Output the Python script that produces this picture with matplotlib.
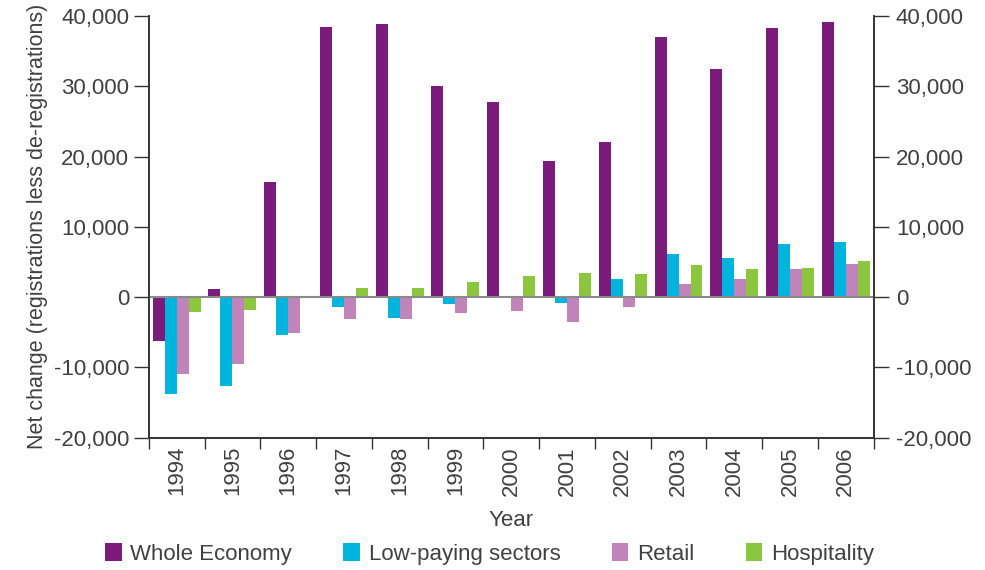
import numpy as np
import matplotlib
matplotlib.use("Agg")
import matplotlib.pyplot as plt
from matplotlib.ticker import FuncFormatter

# ── Data ─────────────────────────────────────────────────────────────────────
years = ["1994", "1995", "1996", "1997", "1998", "1999", "2000",
         "2001", "2002", "2003", "2004", "2005", "2006"]
whole_economy = [-6300, 1150, 16400, 38400, 38900, 30100, 27700,
                 19400, 22100, 37000, 32400, 38300, 39100]
low_paying = [-13800, -12600, -5400, -1400, -3000, -950, -100,
              -800, 2600, 6200, 5500, 7500, 7800]
retail = [-11000, -9450, -5100, -3100, -3100, -2250, -2000,
          -3550, -1400, 1900, 2600, 4000, 4750]
hospitality = [-2100, -1800, 200, 1300, 1300, 2150, 3000,
               3450, 3300, 4600, 4000, 4150, 5200]

series = [("Whole Economy", whole_economy, "#7b1c7d"),
          ("Low-paying sectors", low_paying, "#00b5dd"),
          ("Retail", retail, "#c084ba"),
          ("Hospitality", hospitality, "#8cc63f")]

yticks = [-20000, -10000, 0, 10000, 20000, 30000, 40000]

# ── Figure ───────────────────────────────────────────────────────────────────
plt.rcParams['font.family'] = ['Liberation Sans', 'DejaVu Sans']
text_col = "#404040"
fs = 16
fig = plt.figure(figsize=(9.85, 5.7), dpi=100)
ax = fig.add_axes([0.151, 0.232, 0.736, 0.740])

x = np.arange(len(years))
w = 0.215
for i, (name, vals, col) in enumerate(series):
    ax.bar(x + (i - 1.5) * w, vals, width=w, color=col, label=name, zorder=2)

ax.axhline(0, color="#8a8a8a", linewidth=1.5, zorder=3)

ax.set_xlim(-0.5, len(years) - 0.5)
ax.set_ylim(-20000, 40000)

fmt = FuncFormatter(lambda v, p: f"{int(v):,}")
ax.set_yticks(yticks)
ax.yaxis.set_major_formatter(fmt)
ax.tick_params(axis="y", direction="out", length=11, width=1, colors="#333333",
               labelsize=fs, labelcolor=text_col, pad=3)

# right axis duplicates the left
ax2 = ax.twinx()
ax2.set_ylim(ax.get_ylim())
ax2.set_yticks(yticks)
ax2.yaxis.set_major_formatter(fmt)
ax2.tick_params(axis="y", direction="out", length=11, width=1, colors="#333333",
                labelsize=fs, labelcolor=text_col, pad=5)

# x ticks at group boundaries, labels centred under groups
ax.set_xticks(np.arange(-0.5, len(years), 1.0))
ax.set_xticklabels([])
ax.set_xticks(x, minor=True)
ax.set_xticklabels(years, minor=True, rotation=90, fontsize=fs, color=text_col)
ax.tick_params(axis="x", which="major", direction="out", length=8, width=1,
               colors="#333333")
ax.tick_params(axis="x", which="minor", length=0, pad=6)

for a in (ax, ax2):
    a.spines["top"].set_visible(False)
    for s in ("left", "right", "bottom"):
        a.spines[s].set_color("#333333")
        a.spines[s].set_linewidth(1.2)

ax.set_xlabel("Year", fontsize=fs, color=text_col, labelpad=10)
ax.set_ylabel("Net change (registrations less de-registrations)",
              fontsize=15.5, color=text_col, labelpad=4)

handles, labels = ax.get_legend_handles_labels()
fig.legend(handles, labels, loc="center", bbox_to_anchor=(0.497, 0.028),
           ncol=4, frameon=False, fontsize=fs, handlelength=0.75,
           handleheight=0.85, handletextpad=0.4, columnspacing=2.3,
           labelcolor=text_col)

fig.savefig("out.png", dpi=100, facecolor="white")
